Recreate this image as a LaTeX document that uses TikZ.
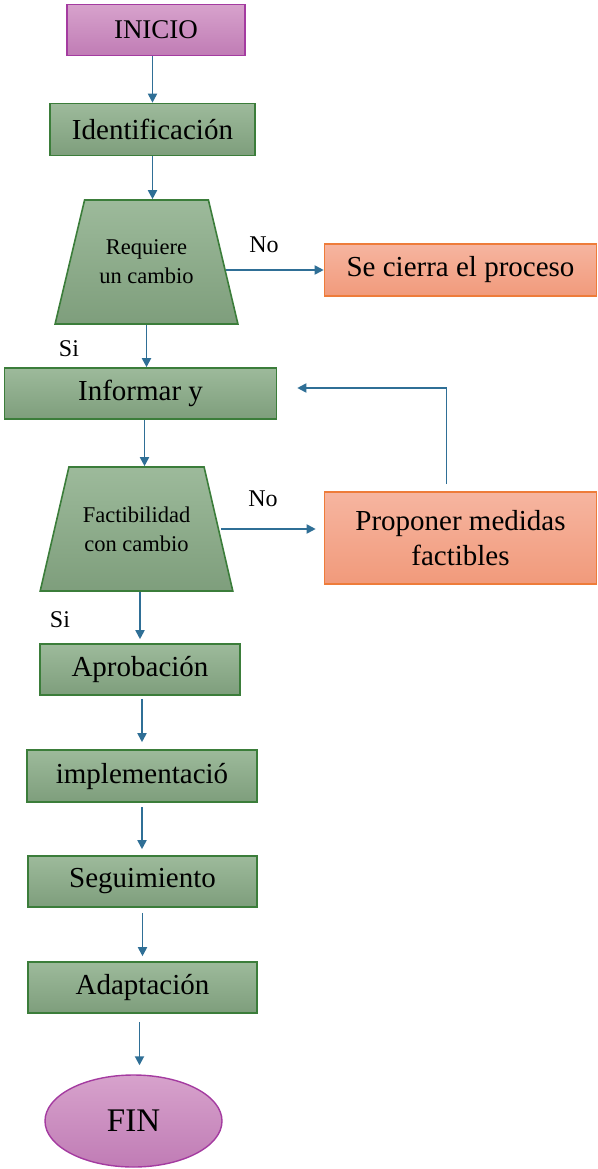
\documentclass[tikz,border=0pt]{standalone}
\usepackage{fontspec}
\setmainfont{Liberation Serif}
\usetikzlibrary{shapes.geometric,arrows.meta}

% Farben
\definecolor{gruenRand}{HTML}{3B7D3A}
\definecolor{gruenOben}{HTML}{9DBA9B}
\definecolor{gruenUnten}{HTML}{7E9E7C}
\definecolor{lilaRand}{HTML}{A43BA0}
\definecolor{lilaOben}{HTML}{D7A2CC}
\definecolor{lilaUnten}{HTML}{C07CB5}
\definecolor{orangeRand}{HTML}{EE7C3A}
\definecolor{orangeOben}{HTML}{F6B5A0}
\definecolor{orangeUnten}{HTML}{F19A7B}
\definecolor{pfeilFarbe}{HTML}{2F6F96}

\tikzset{
  schritt/.style={rectangle, draw=gruenRand, line width=1.6pt, top color=gruenOben, bottom color=gruenUnten, inner sep=0pt, font=\fontsize{29}{34}\selectfont},
  frage/.style={trapezium, trapezium left angle=63, trapezium right angle=63, trapezium stretches=true, draw=gruenRand, line width=1.6pt, top color=gruenOben, bottom color=gruenUnten, inner sep=0pt, align=center, font=\fontsize{22.5}{29}\selectfont},
  alternative/.style={rectangle, draw=orangeRand, line width=1.6pt, top color=orangeOben, bottom color=orangeUnten, inner sep=0pt, align=center, font=\fontsize{29}{35}\selectfont},
  terminal/.style={draw=lilaRand, line width=1.4pt, top color=lilaOben, bottom color=lilaUnten, inner sep=0pt},
  pfeil/.style={draw=pfeilFarbe, line width=1.8pt, -{Triangle[length=9pt,width=9pt]}},
  marke/.style={font=\fontsize{24}{28}\selectfont}
}

\begin{document}
\begin{tikzpicture}[x=1pt, y=-1pt]

\useasboundingbox (0,0) rectangle (597,1169);

% Hauptstrang (Mitte links)
\node[terminal, rectangle, minimum width=178pt, minimum height=51pt, font=\fontsize{27}{32}\selectfont] at (156,30) (ini) {INICIO};
\node[schritt, minimum width=205pt, minimum height=52pt] at (152.5,129.5) (ident) {Identificación};
\node[frage, minimum width=183pt, minimum height=124pt] at (146.5,262) (t1) {Requiere\\un cambio};
\node[schritt, minimum width=272pt, minimum height=51pt] at (140.5,393.5) (inf) {Informar y};
\node[frage, minimum width=193pt, minimum height=124pt] at (136.5,529) (t2) {Factibilidad\\con cambio};
\node[schritt, minimum width=200pt, minimum height=51pt] at (140,669.5) (aprob) {Aprobación};
\node[schritt, minimum width=230pt, minimum height=52pt] at (142,776) (impl) {implementació};
\node[schritt, minimum width=229pt, minimum height=51pt] at (142.5,881.5) (seg) {Seguimiento};
\node[schritt, minimum width=229pt, minimum height=51pt] at (142.5,987.5) (adapt) {Adaptación};
\node[terminal, ellipse, minimum width=177pt, minimum height=92pt, font=\fontsize{33}{38}\selectfont] at (133.5,1121) (fin) {FIN};

% Nebenzweige (rechts)
\node[alternative, minimum width=272pt, minimum height=52pt] at (460.5,270) (se) {Se cierra el proceso};
\node[alternative, minimum width=272pt, minimum height=92pt] at (460.5,538) (prop) {Proponer medidas\\factibles};

% Beschriftungen der Verzweigungen
\node[marke] at (264,245) (no1) {No};
\node[marke] at (263,499) (no2) {No};
\node[marke] at (69,349) (si1) {Si};
\node[marke] at (60,620) (si2) {Si};

% Pfeile
\draw[pfeil] (ini.south -| ident) -- (ident.north);
\draw[pfeil] (ident.south) -- (ident.south |- t1.north);
\draw[pfeil] (t1.south) -- (t1.south |- inf.north);
\draw[pfeil] ([xshift=4pt]inf.south) -- ([xshift=4pt]inf.south |- t2.north);
\draw[pfeil, shorten >=4pt] (aprob.north |- t2.south) -- (aprob.north);
\draw[pfeil, shorten <=3pt, shorten >=7pt] (aprob.south -| impl) -- (impl.north);
\draw[pfeil, shorten <=4pt, shorten >=6pt] (impl.south) -- (impl.south |- seg.north);
\draw[pfeil, shorten <=5pt, shorten >=5pt] (seg.south) -- (adapt.north);
\draw[pfeil, shorten <=8pt, shorten >=9pt] ([xshift=-3pt]adapt.south) -- ([xshift=-3pt]adapt.south |- fin.north);

\draw[pfeil, shorten <=2pt] (se.west -| t1.east) -- (se.west);
\draw[pfeil, shorten <=2pt, shorten >=8pt] (t2.east) -- (t2.east -| prop.west);

% Rueckfuehrung
\draw[pfeil, shorten <=7pt, shorten >=20pt] ([xshift=-14pt]prop.north) |- ([yshift=5.5pt]inf.east);

\end{tikzpicture}
\end{document}
